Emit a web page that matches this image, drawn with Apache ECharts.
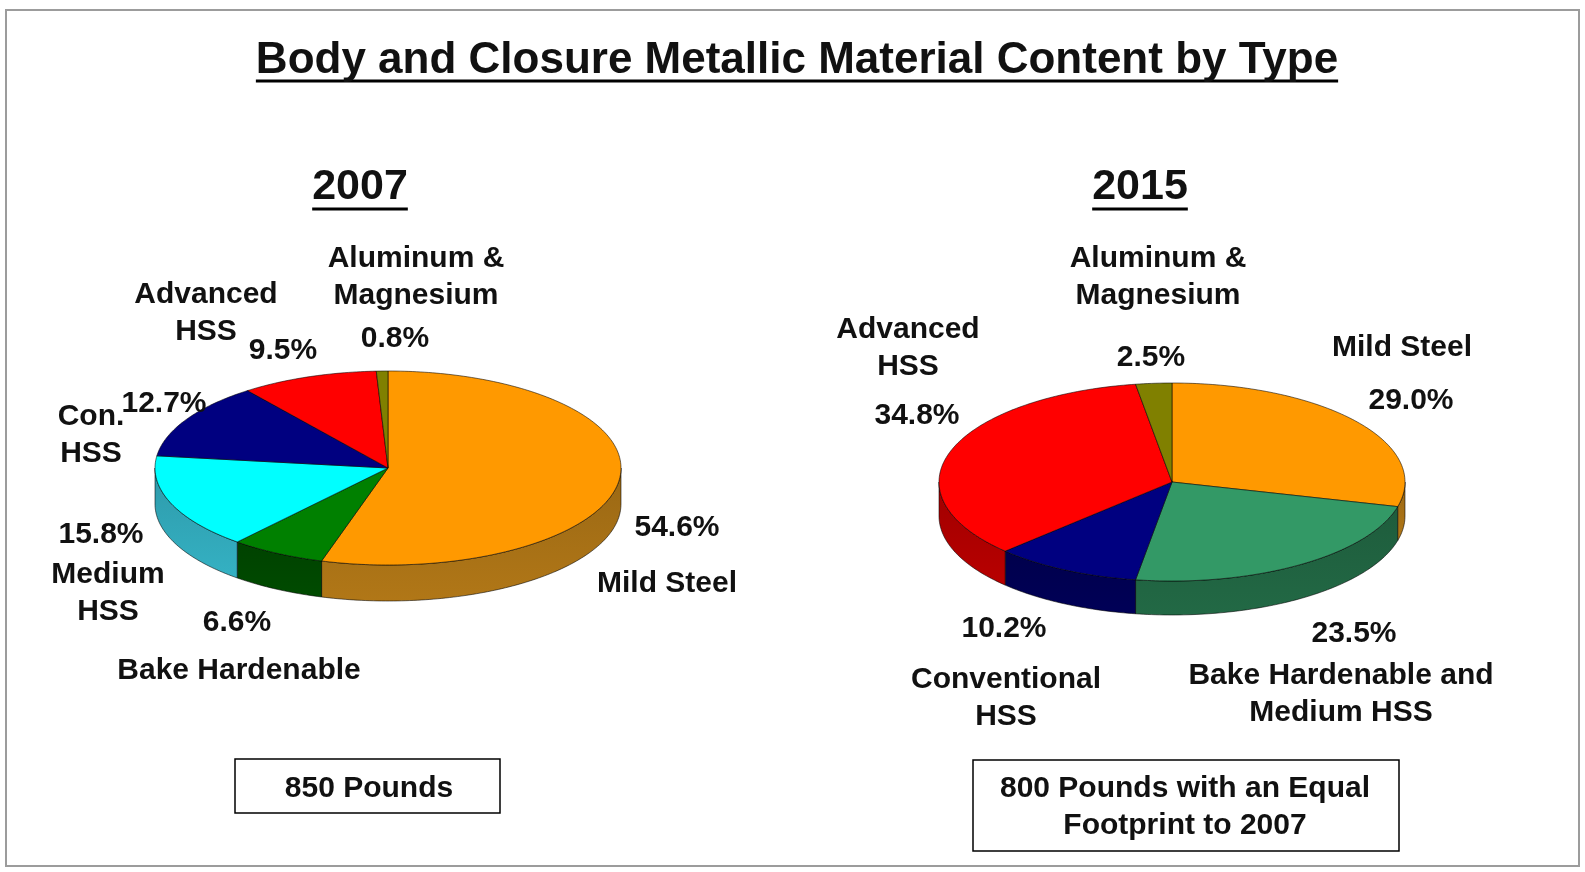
<!DOCTYPE html>
<html>
<head>
<meta charset="utf-8">
<script src="https://cdn.jsdelivr.net/npm/echarts@6/dist/echarts.min.js"></script>
<style>
  html, body { margin: 0; padding: 0; background: #fff; }
  #main { width: 1585px; height: 872px; }
</style>
</head>
<body>
<div id="main"></div>
<script>
// Body and closure metallic material shares, percent of total weight
const chartTitle = 'Body and Closure Metallic Material Content by Type';
const years = ['2007', '2015'];
const weightNotes = ['850 Pounds', '800 Pounds with an Equal\nFootprint to 2007'];

const names2007 = ['Mild Steel', 'Bake Hardenable', 'Medium\nHSS', 'Con.\nHSS', 'Advanced\nHSS', 'Aluminum &\nMagnesium'];
const values2007 = [54.6, 6.6, 15.8, 12.7, 9.5, 0.8];

const names2015 = ['Mild Steel', 'Bake Hardenable and\nMedium HSS', 'Conventional\nHSS', 'Advanced\nHSS', 'Aluminum &\nMagnesium'];
const values2015 = [29.0, 23.5, 10.2, 34.8, 2.5];

// Slice colours: top face and darker side wall
const top2007 = ['#FF9900', '#008000', '#00FFFF', '#000080', '#FF0000', '#808000'];
const side2007 = ['#9A6814', '#004200', '#2E9AAA', '#00004C', '#A00000', '#4A4A00'];
const top2015 = ['#FF9900', '#339966', '#000080', '#FF0000', '#808000'];
const side2015 = ['#9A6814', '#1E5C3C', '#00004C', '#A00000', '#4A4A00'];

// Label anchors per slice: [nameX, nameY, valueX, valueY]
const labelPos2007 = [
  [667, 584, 677, 528],
  [239, 671, 237, 623],
  [108, 593, 101, 535],
  [91, 435, 164, 404],
  [206, 313, 283, 351],
  [416, 277, 395, 339]
];
const labelPos2015 = [
  [1402, 348, 1411, 401],
  [1341, 694, 1354, 634],
  [1006, 698, 1004, 629],
  [908, 348, 917, 416],
  [1158, 277, 1151, 358]
];

// Tilted pie geometry (ellipse radii and wall depth)
const pieGeo = [
  { cx: 388, cy: 468, rx: 233, ry: 97, depth: 36 },
  { cx: 1172, cy: 482, rx: 233, ry: 99, depth: 34 }
];

const FONT_FAMILY = '"Liberation Sans", Arial, Helvetica, sans-serif';
const LABEL_SIZE = 30;

function textEl(text, x, y, size, z2) {
  return {
    type: 'text', x: x, y: y, z2: z2 || 10, silent: true,
    style: {
      text: text,
      fontFamily: FONT_FAMILY,
      fontWeight: 'bold',
      fontSize: size,
      fill: '#111',
      align: 'center',
      verticalAlign: 'middle',
      lineHeight: 37
    }
  };
}

function pieSeries(values, names, topColors, sideColors, labelPos, geo) {
  const total = values.reduce((a, b) => a + b, 0);
  let acc = 0;
  const data = values.map(v => { const s = acc; acc += v; return [s, v]; });
  return {
    type: 'custom',
    coordinateSystem: 'none',
    silent: true,
    animation: false,
    data: data,
    renderItem: function (params, api) {
      const i = params.dataIndex;
      const start = api.value(0) / total * Math.PI * 2;
      const end = (api.value(0) + api.value(1)) / total * Math.PI * 2;
      const pt = (a, dy) => [geo.cx + geo.rx * Math.sin(a), geo.cy - geo.ry * Math.cos(a) + dy];
      const arc = (a0, a1, dy) => {
        const n = Math.max(2, Math.ceil((a1 - a0) / (Math.PI / 180)));
        const pts = [];
        for (let k = 0; k <= n; k++) pts.push(pt(a0 + (a1 - a0) * k / n, dy));
        return pts;
      };
      const children = [];
      // visible front wall: angles between 3 o'clock and 9 o'clock
      const s = Math.max(start, Math.PI / 2);
      const e = Math.min(end, Math.PI * 1.5);
      if (e > s) {
        const wall = arc(s, e, 0).concat(arc(s, e, geo.depth).reverse());
        children.push({
          type: 'polygon', z2: 1,
          shape: { points: wall },
          style: {
            fill: {
              type: 'linear', x: 0, y: 0, x2: 0, y2: 1,
              colorStops: [
                { offset: 0, color: sideColors[i] },
                { offset: 1, color: echarts.color.lift(sideColors[i], -0.15) }
              ]
            },
            stroke: 'rgba(0,0,0,0.55)', lineWidth: 1, lineJoin: 'round'
          }
        });
      }
      // top face sector
      children.push({
        type: 'polygon', z2: 5,
        shape: { points: [[geo.cx, geo.cy]].concat(arc(start, end, 0)) },
        style: { fill: topColors[i], stroke: 'rgba(0,0,0,0.55)', lineWidth: 1, lineJoin: 'round' }
      });
      const lp = labelPos[i];
      children.push(textEl(names[i], lp[0], lp[1], LABEL_SIZE, 20));
      children.push(textEl(api.value(1).toFixed(1) + '%', lp[2], lp[3], LABEL_SIZE, 20));
      return { type: 'group', children: children };
    }
  };
}

// width of a string in a given font, for underlines
const measureCtx = document.createElement('canvas').getContext('2d');
function textWidth(text, size) {
  measureCtx.font = 'bold ' + size + 'px ' + FONT_FAMILY;
  return measureCtx.measureText(text).width;
}

function underlinedText(text, cx, cy, size, lineY) {
  const w = textWidth(text, size);
  return [
    textEl(text, cx, cy, size),
    {
      type: 'line', silent: true,
      shape: { x1: cx - w / 2, y1: lineY, x2: cx + w / 2, y2: lineY },
      style: { stroke: '#000', lineWidth: 3 }
    }
  ];
}

const graphics = [
  {
    type: 'rect', silent: true, z: -1,
    shape: { x: 6, y: 10, width: 1573, height: 856 },
    style: { fill: '#fff', stroke: '#9c9c9c', lineWidth: 2 }
  },
  ...underlinedText(chartTitle, 797, 61, 44, 81),
  ...underlinedText(years[0], 360, 187, 43, 209),
  ...underlinedText(years[1], 1140, 187, 43, 209),
  {
    type: 'rect', silent: true,
    shape: { x: 235, y: 759, width: 265, height: 54 },
    style: { fill: '#fff', stroke: '#000', lineWidth: 1.5 }
  },
  textEl(weightNotes[0], 369, 789, 30),
  {
    type: 'rect', silent: true,
    shape: { x: 973, y: 760, width: 426, height: 91 },
    style: { fill: '#fff', stroke: '#000', lineWidth: 1.5 }
  },
  textEl(weightNotes[1], 1185, 807, 30)
];

const chart = echarts.init(document.getElementById('main'), null, { renderer: 'canvas' });
chart.setOption({
  backgroundColor: '#ffffff',
  animation: false,
  graphic: { elements: graphics },
  series: [
    pieSeries(values2007, names2007, top2007, side2007, labelPos2007, pieGeo[0]),
    pieSeries(values2015, names2015, top2015, side2015, labelPos2015, pieGeo[1])
  ]
});
</script>
</body>
</html>
